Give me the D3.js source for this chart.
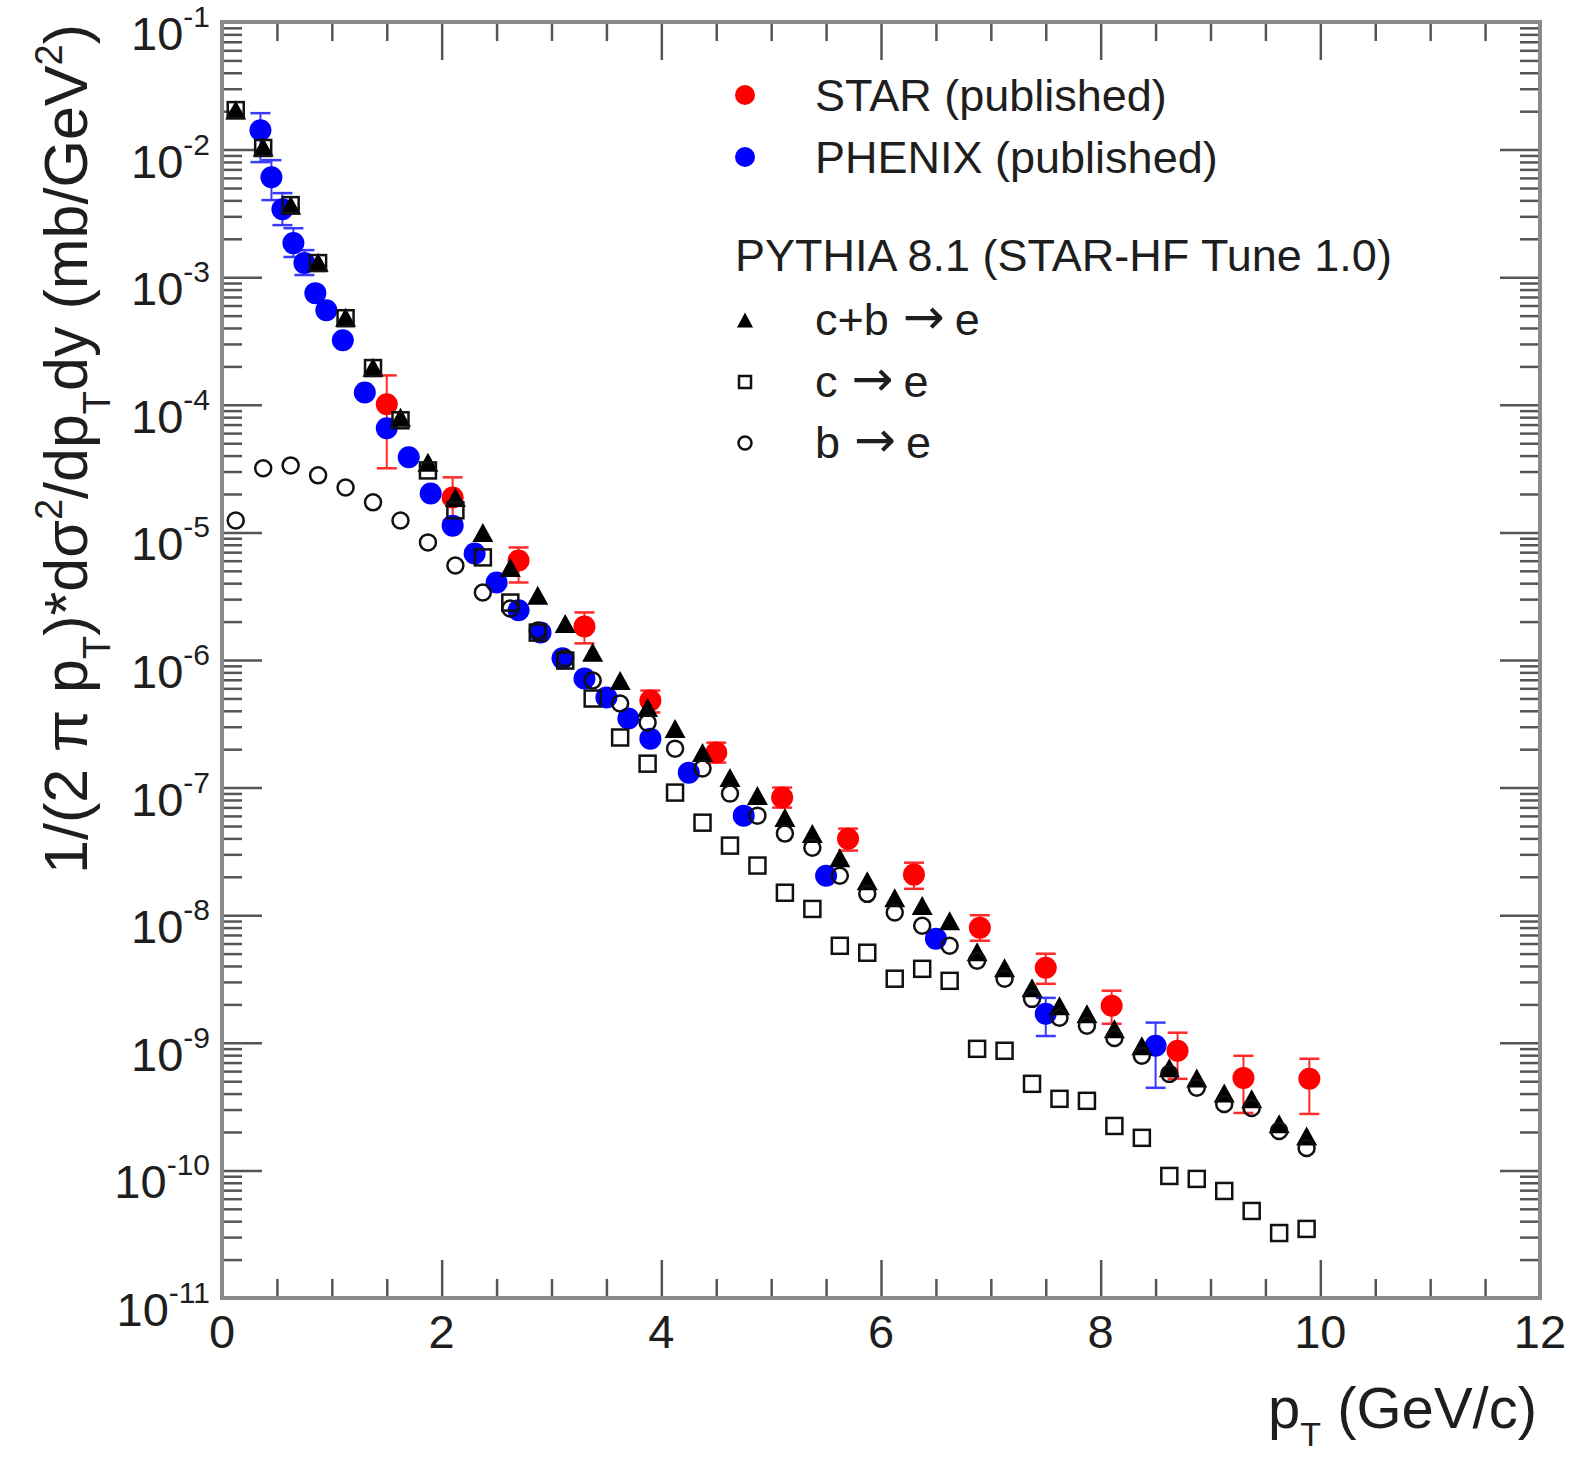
<!DOCTYPE html>
<html>
<head>
<meta charset="utf-8">
<script src="https://cdn.jsdelivr.net/npm/d3@7"></script>
<style>
  html, body { margin: 0; padding: 0; background: #fff; }
  svg { display: block; }
  text { font-family: "Liberation Sans", Arial, Helvetica, sans-serif; fill: #1e1e1e; }
  .arrow { font-family: "DejaVu Sans", sans-serif; }
</style>
</head>
<body>
<svg id="chart" width="1569" height="1458"></svg>
<script>
// ---- PYTHIA 8.1 (STAR-HF Tune 1.0) non-photonic electron spectra ----
const pythiaPt = [0.125, 0.375, 0.625, 0.875, 1.125, 1.375, 1.625, 1.875, 2.125, 2.375,
                  2.625, 2.875, 3.125, 3.375, 3.625, 3.875, 4.125, 4.375, 4.625, 4.875,
                  5.125, 5.375, 5.625, 5.875, 6.125, 6.375, 6.625, 6.875, 7.125, 7.375,
                  7.625, 7.875, 8.125, 8.375, 8.625, 8.875, 9.125, 9.375, 9.625, 9.875];

// c+b -> e
const cbToE = [2.04e-2, 1.05e-2, 3.67e-3, 1.31e-3, 4.86e-4, 1.97e-4, 7.98e-5, 3.54e-5, 1.88e-5, 1.0e-5,
               5.31e-6, 3.21e-6, 1.93e-6, 1.15e-6, 6.9e-7, 4.24e-7, 2.9e-7, 1.88e-7, 1.2e-7, 8.66e-8,
               5.82e-8, 4.36e-8, 2.82e-8, 1.86e-8, 1.37e-8, 1.19e-8, 9.05e-9, 5.17e-9, 3.88e-9, 2.7e-9,
               1.95e-9, 1.69e-9, 1.29e-9, 9.47e-10, 6.37e-10, 5.31e-10, 4.05e-10, 3.64e-10, 2.32e-10, 1.86e-10];

// c -> e
const cToE = [2.04e-2, 1.03e-2, 3.67e-3, 1.29e-3, 4.77e-4, 1.94e-4, 7.56e-5, 3.06e-5, 1.49e-5, 6.37e-6,
              2.82e-6, 1.64e-6, 9.9e-7, 4.99e-7, 2.47e-7, 1.54e-7, 9.14e-8, 5.31e-8, 3.51e-8, 2.45e-8,
              1.5e-8, 1.12e-8, 5.76e-9, 5.08e-9, 3.18e-9, 3.8e-9, 3.06e-9, 8.97e-10, 8.66e-10, 4.77e-10,
              3.64e-10, 3.51e-10, 2.23e-10, 1.8e-10, 9.05e-11, 8.58e-11, 6.9e-11, 4.81e-11, 3.23e-11, 3.48e-11];

// b -> e
const bToE = [1.24e-5, 3.18e-5, 3.35e-5, 2.8e-5, 2.25e-5, 1.72e-5, 1.24e-5, 8.35e-6, 5.51e-6, 3.38e-6,
              2.53e-6, 1.7e-6, 1.03e-6, 6.9e-7, 4.56e-7, 3.23e-7, 2.02e-7, 1.41e-7, 8.97e-8, 6.03e-8,
              4.36e-8, 3.38e-8, 2.04e-8, 1.47e-8, 1.05e-8, 8.27e-9, 5.76e-9, 4.4e-9, 3.18e-9, 2.21e-9,
              1.57e-9, 1.36e-9, 1.09e-9, 7.91e-10, 5.71e-10, 4.44e-10, 3.32e-10, 3.09e-10, 2.04e-10, 1.5e-10];

// ---- STAR (published) ----
const starPt  = [1.5, 2.1, 2.7, 3.3, 3.9, 4.5, 5.1, 5.7, 6.3, 6.9, 7.5, 8.1, 8.7, 9.3, 9.9];
const starVal = [1.01e-4, 1.88e-5, 6.03e-6, 1.83e-6, 4.81e-7, 1.88e-7, 8.35e-8, 3.98e-8, 2.08e-8,
                 7.98e-9, 3.88e-9, 1.95e-9, 8.66e-10, 5.31e-10, 5.22e-10];
const starHi  = [1.7e-4, 2.7e-5, 7.62e-6, 2.36e-6, 5.76e-7, 2.25e-7, 1.0e-7, 4.77e-8, 2.58e-8,
                 1.0e-8, 4.99e-9, 2.56e-9, 1.2e-9, 7.91e-10, 7.5e-10];
const starLo  = [3.18e-5, 1.24e-5, 4.05e-6, 1.35e-6, 3.88e-7, 1.57e-7, 6.97e-8, 3.21e-8, 1.61e-8,
                 6.31e-9, 2.9e-9, 1.41e-9, 5.22e-10, 2.82e-10, 2.77e-10];

// ---- PHENIX (published) ----
const phenixPt  = [0.35, 0.45, 0.55, 0.65, 0.75, 0.85, 0.95, 1.1, 1.3, 1.5, 1.7, 1.9, 2.1, 2.3,
                   2.5, 2.7, 2.9, 3.1, 3.3, 3.5, 3.7, 3.9, 4.25, 4.75, 5.5, 6.5, 7.5, 8.5];
const phenixVal = [1.42e-2, 6.08e-3, 3.41e-3, 1.85e-3, 1.29e-3, 7.5e-4, 5.51e-4, 3.21e-4, 1.25e-4,
                   6.55e-5, 3.88e-5, 2.02e-5, 1.13e-5, 6.84e-6, 4.05e-6, 2.45e-6, 1.64e-6, 1.03e-6,
                   7.16e-7, 5.08e-7, 3.48e-7, 2.42e-7, 1.31e-7, 6.03e-8, 2.04e-8, 6.55e-9, 1.69e-9, 9.47e-10];
const phenixHi  = [1.93e-2, 8.27e-3, 4.56e-3, 2.42e-3, 1.63e-3, null, null, null, null, null, null,
                   null, null, null, null, null, null, null, null, null, null, null, null, null,
                   null, null, 2.25e-9, 1.44e-9];
const phenixLo  = [7.98e-3, 4.02e-3, 2.56e-3, 1.44e-3, 1.04e-3, null, null, null, null, null, null,
                   null, null, null, null, null, null, null, null, null, null, null, null, null,
                   null, null, 1.13e-9, 4.44e-10];

// ---- axes ----
const xMajorTicks = [0, 2, 4, 6, 8, 10, 12];
const xTickLabels = ["0", "2", "4", "6", "8", "10", "12"];
const yExponents  = [-11, -10, -9, -8, -7, -6, -5, -4, -3, -2, -1];

const legendRows = [
  { label: ["STAR (published)"],   kind: "dot",  color: "#ff0000" },
  { label: ["PHENIX (published)"], kind: "dot",  color: "#0000ff" },
  { label: ["PYTHIA 8.1 (STAR-HF Tune 1.0)"], kind: "header" },
  { label: ["c+b", "e"], kind: "triangle" },
  { label: ["c", "e"],   kind: "square" },
  { label: ["b", "e"],   kind: "circle" }
];

const svg = d3.select("#chart");
const X0 = 222, X1 = 1540, Y0 = 1298, Y1 = 22;

const x = d3.scaleLinear().domain([0, 12]).range([X0, X1]);
const y = d3.scaleLog().domain([1e-11, 1e-1]).range([Y0, Y1]);

svg.append("rect").attr("width", 1569).attr("height", 1458).attr("fill", "#fff");

// tick marks on all four sides
const yMajor = yExponents.map(e => Math.pow(10, e));
const yMinor = [];
yExponents.slice(0, -1).forEach(e => {
  for (let k = 2; k <= 9; k++) yMinor.push(k * Math.pow(10, e));
});
const xMinor = d3.range(0, 12.01, 0.5).filter(v => !xMajorTicks.includes(v));

function tickStyle(g) {
  g.select(".domain").remove();
  g.selectAll("text").remove();
  g.selectAll("line").attr("stroke", "#555").attr("stroke-width", 2.5);
}
const axes = svg.append("g");
axes.append("g").attr("transform", `translate(${X0},0)`)
  .call(d3.axisRight(y).tickValues(yMajor).tickSize(40)).call(tickStyle);
axes.append("g").attr("transform", `translate(${X0},0)`)
  .call(d3.axisRight(y).tickValues(yMinor).tickSize(20)).call(tickStyle);
axes.append("g").attr("transform", `translate(${X1},0)`)
  .call(d3.axisLeft(y).tickValues(yMajor).tickSize(40)).call(tickStyle);
axes.append("g").attr("transform", `translate(${X1},0)`)
  .call(d3.axisLeft(y).tickValues(yMinor).tickSize(20)).call(tickStyle);
axes.append("g").attr("transform", `translate(0,${Y0})`)
  .call(d3.axisTop(x).tickValues(xMajorTicks).tickSize(38)).call(tickStyle);
axes.append("g").attr("transform", `translate(0,${Y0})`)
  .call(d3.axisTop(x).tickValues(xMinor).tickSize(19)).call(tickStyle);
axes.append("g").attr("transform", `translate(0,${Y1})`)
  .call(d3.axisBottom(x).tickValues(xMajorTicks).tickSize(38)).call(tickStyle);
axes.append("g").attr("transform", `translate(0,${Y1})`)
  .call(d3.axisBottom(x).tickValues(xMinor).tickSize(19)).call(tickStyle);

// frame
svg.append("rect").attr("x", X0).attr("y", Y1).attr("width", X1 - X0).attr("height", Y0 - Y1)
  .attr("fill", "none").attr("stroke", "#8a8a8a").attr("stroke-width", 4);

// y tick labels 10^n
yExponents.forEach(e => {
  const t = svg.append("text").attr("x", 210).attr("y", y(Math.pow(10, e)) + 28)
    .attr("text-anchor", "end").style("font-size", "47px");
  t.append("tspan").text("10");
  t.append("tspan").attr("dy", -23).style("font-size", "30px").text(String(e));
});

// x tick labels
xMajorTicks.forEach((v, i) => {
  svg.append("text").attr("x", x(v)).attr("y", 1348).attr("text-anchor", "middle")
    .style("font-size", "47px").text(xTickLabels[i]);
});

// axis titles
const xt = svg.append("text").attr("x", 1537).attr("y", 1428).attr("text-anchor", "end")
  .style("font-size", "58px");
xt.append("tspan").text("p");
xt.append("tspan").attr("dy", 18).style("font-size", "34px").text("T");
xt.append("tspan").attr("dy", -18).text(" (GeV/c)");

const yt = svg.append("text").attr("transform", "translate(87,24) rotate(-90)")
  .attr("text-anchor", "end").style("font-size", "61px");
const yParts = [["1/(2 \u03c0 p", 0], ["T", 1], [")*d\u03c3", 0], ["2", -1], ["/dp", 0], ["T", 1],
                ["dy (mb/GeV", 0], ["2", -1], [")", 0]];
let shift = 0;
yParts.forEach(([s, k]) => {
  const target = k === 1 ? 23 : (k === -1 ? -25 : 0);
  const ts = yt.append("tspan").attr("dy", target - shift).text(s);
  if (k !== 0) ts.style("font-size", "38px");
  shift = target;
});

// ---- data layers ----
const plot = svg.append("g");

function errorBars(g, pts, hi, lo, color) {
  const idx = d3.range(pts.length).filter(i => hi[i] != null);
  const eb = g.append("g").attr("stroke", color).attr("fill", "none");
  eb.selectAll("line.v").data(idx).join("line")
    .attr("stroke-width", 2)
    .attr("x1", i => x(pts[i])).attr("x2", i => x(pts[i]))
    .attr("y1", i => y(hi[i])).attr("y2", i => y(lo[i]));
  eb.selectAll("line.h").data(idx.flatMap(i => [[i, hi[i]], [i, lo[i]]])).join("line")
    .attr("stroke-width", 2.5)
    .attr("x1", d => x(pts[d[0]]) - 10).attr("x2", d => x(pts[d[0]]) + 10)
    .attr("y1", d => y(d[1])).attr("y2", d => y(d[1]));
}

errorBars(plot, starPt, starHi, starLo, "#ff2a2a");
plot.append("g").selectAll("circle").data(starPt).join("circle")
  .attr("cx", d => x(d)).attr("cy", (d, i) => y(starVal[i])).attr("r", 11).attr("fill", "#ff0000");

errorBars(plot, phenixPt, phenixHi, phenixLo, "#3a3aff");
plot.append("g").selectAll("circle").data(phenixPt).join("circle")
  .attr("cx", d => x(d)).attr("cy", (d, i) => y(phenixVal[i])).attr("r", 11).attr("fill", "#0000ff");

const triPath = (w, h) => `M0,${-h / 2}L${w / 2},${h / 2}L${-w / 2},${h / 2}Z`;

plot.append("g").selectAll("path").data(pythiaPt).join("path")
  .attr("transform", (d, i) => `translate(${x(d)},${y(cbToE[i])})`)
  .attr("d", triPath(21, 19)).attr("fill", "#000");

plot.append("g").selectAll("rect").data(pythiaPt).join("rect")
  .attr("x", d => x(d) - 8).attr("y", (d, i) => y(cToE[i]) - 8)
  .attr("width", 16).attr("height", 16)
  .attr("fill", "none").attr("stroke", "#111").attr("stroke-width", 2.5);

plot.append("g").selectAll("circle").data(pythiaPt).join("circle")
  .attr("cx", d => x(d)).attr("cy", (d, i) => y(bToE[i])).attr("r", 8)
  .attr("fill", "none").attr("stroke", "#111").attr("stroke-width", 2.5);

// ---- legend ----
const legendY = [95, 157, 255, 320, 382, 443];
const leg = svg.append("g");
legendRows.forEach((row, i) => {
  const cy = legendY[i];
  if (row.kind === "header") {
    leg.append("text").attr("x", 735).attr("y", cy + 16).style("font-size", "45px").text(row.label[0]);
    return;
  }
  if (row.kind === "dot") {
    leg.append("circle").attr("cx", 745).attr("cy", cy).attr("r", 10).attr("fill", row.color);
  } else if (row.kind === "triangle") {
    leg.append("path").attr("transform", `translate(745,${cy})`).attr("d", triPath(16, 15)).attr("fill", "#000");
  } else if (row.kind === "square") {
    leg.append("rect").attr("x", 739).attr("y", cy - 6).attr("width", 12).attr("height", 12)
      .attr("fill", "none").attr("stroke", "#111").attr("stroke-width", 2.5);
  } else if (row.kind === "circle") {
    leg.append("circle").attr("cx", 745).attr("cy", cy).attr("r", 6.5)
      .attr("fill", "none").attr("stroke", "#111").attr("stroke-width", 2.5);
  }
  const base = row.kind === "dot" ? cy + 16 : cy + 15;
  const t = leg.append("text").attr("x", 815).attr("y", base).style("font-size", "45px");
  t.append("tspan").text(row.label[0]);
  if (row.label.length > 1) {
    t.append("tspan").attr("class", "arrow").attr("dx", 14).attr("dy", -1)
      .style("font-size", "50px").text("\u2192");
    t.append("tspan").attr("dx", 10).attr("dy", 1).text(row.label[1]);
  }
});
</script>
</body>
</html>
